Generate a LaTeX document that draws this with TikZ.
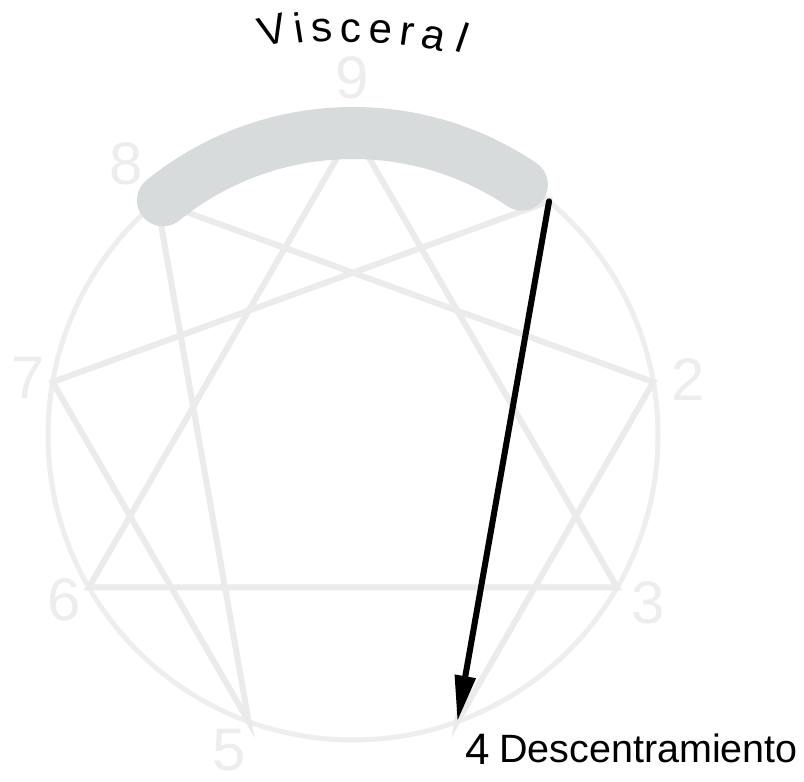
\documentclass[tikz,border=0pt]{standalone}
\usepackage{fontspec}
\setmainfont{Liberation Sans}
\newfontfamily\thinfont{Liberation Sans}
\usetikzlibrary{arrows.meta}
\definecolor{ennline}{HTML}{EBEBEB}
\definecolor{ringgray}{HTML}{EEEEEE}
\definecolor{arcgray}{HTML}{D8DBDB}
\definecolor{digitgray}{HTML}{EDEDED}
\begin{document}
\begin{tikzpicture}[x=1pt,y=1pt,
  ring/.style={draw=ringgray,line width=5pt},
  ennl/.style={draw=ennline,line width=6pt,line join=miter},
  arcband/.style={draw=arcgray,line width=52pt,line cap=round},
  arrowline/.style={draw=black,line width=6pt,line cap=round,-{Triangle[length=46pt,width=20pt]}},
  digit/.style={font=\thinfont\fontsize{60}{60}\selectfont,text=digitgray,inner sep=0pt},
  letter/.style={font=\fontsize{42}{42}\selectfont,anchor=base,inner sep=0pt,text=black}]
\fill[white] (0,0) rectangle (804,782);
\useasboundingbox (0,0) rectangle (804,782);
\begin{scope}[shift={(353,347)}]
  \coordinate (v9) at (90:305);
  \coordinate (v1) at (50:305);
  \coordinate (v2) at (10:305);
  \coordinate (v3) at (-30:305);
  \coordinate (v4) at (-70:305);
  \coordinate (v5) at (-110:305);
  \coordinate (v6) at (-150:305);
  \coordinate (v7) at (170:305);
  \coordinate (v8) at (130:305);
  \coordinate (ctr) at (0,0);
  \draw[ring] (ctr) circle[radius=305];
  \draw[ennl] (v9) -- (v3) -- (v6) -- cycle;
  \draw[ennl] (v1) -- (v4) -- (v2) -- (v8) -- (v5) -- (v7) -- cycle;
  \coordinate (arcL) at (129:302);
  \draw[arcband] (arcL) arc[start angle=129,end angle=56,radius=302];
  \draw[arrowline] (v1) -- (v4);
\end{scope}
\node[letter,rotate=14]  (lV) at (276.0,738) {V};
\node[letter,rotate=9]   (li) at (301.5,739) {i};
\node[letter,rotate=5]   (ls) at (323.4,740) {s};
\node[letter,rotate=1]   (lc) at (351.2,740) {c};
\node[letter,rotate=-3]  (le) at (380.2,739) {e};
\node[letter,rotate=-8]  (lr) at (405.7,737) {r};
\node[letter,rotate=-13] (la) at (431.2,733) {a};
\node[letter,rotate=-19] (ll) at (458.0,730) {l};
\node[digit] (d9) at (352,704) {9};
\node[digit] (d8) at (126,618) {8};
\node[digit] (d7) at (28,404) {7};
\node[digit] (d2) at (688,402) {2};
\node[digit] (d6) at (64,182) {6};
\node[digit] (d3) at (648,179) {3};
\node[digit] (d5) at (229,32) {5};
\node[font=\thinfont\fontsize{44}{44}\selectfont,anchor=base west,inner sep=0pt] (d4) at (465,17) {4};
\node[font=\fontsize{39.5}{39.5}\selectfont,anchor=base west,inner sep=0pt] (desc) at (499,19) {Descentramiento};
\end{tikzpicture}
\end{document}
